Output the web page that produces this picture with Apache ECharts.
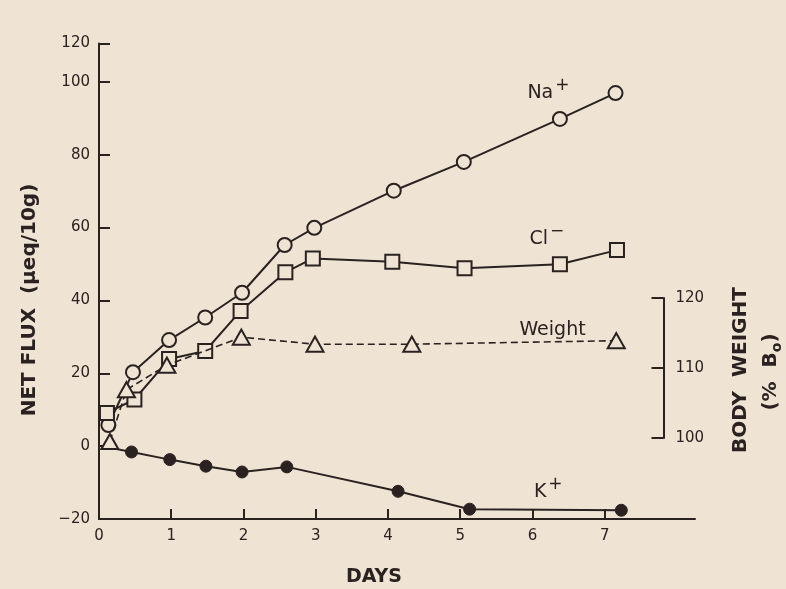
<!DOCTYPE html>
<html><head><meta charset="utf-8">
<script src="https://cdn.jsdelivr.net/npm/echarts@6/dist/echarts.min.js"></script>
<style>html,body{margin:0;padding:0;background:#efe3d4;}#c{width:786px;height:589px;}</style>
</head><body><div id="c"></div>
<script>
// ---- data ----
const naDays = [0.13,0.47,0.97,1.47,1.98,2.57,2.98,4.08,5.05,6.38,7.15];
const naFlux = [5.8,20.3,29.1,35.3,42.1,55.2,59.9,70.1,78.0,89.8,96.9];
const clDays = [0.11,0.49,0.97,1.47,1.96,2.58,2.96,4.06,5.06,6.38,7.17];
const clFlux = [9.1,12.8,23.9,26.1,37.1,47.7,51.5,50.6,48.8,49.9,53.8];
const kDays  = [0.04,0.45,0.98,1.48,1.98,2.60,4.14,5.13,7.23];
const kFlux  = [0,-1.6,-3.7,-5.5,-7.1,-5.7,-12.4,-17.3,-17.6];
const wDays  = [0.15,0.38,0.94,1.97,2.99,4.33,7.16];
const wPct   = [99.5,106.9,110.4,114.4,113.4,113.4,113.9];

const xTicks = [0,1,2,3,4,5,6,7];
const fluxTickValues = [-20,0,20,40,60,80,100,110.5];
const fluxTickLabels = ['\u221220','0','20','40','60','80','100','120'];
const weightTicks = [100,110,120];

const seriesLabels = [
  {text:'{m|Na}{s|+}', x:5.93, y:97.8},
  {text:'{m|Cl}{s|\u2212}', x:5.96, y:57.7},
  {text:'{m|Weight}', x:5.82, y:32.9},
  {text:'{m|K}{s|+}', x:6.02, y:-11.7}
];

const INK = '#2a2220';
const BG = '#efe3d4';
const FONT = '"DejaVu Sans", sans-serif';
const zip = (a,b) => a.map((v,i)=>[v,b[i]]);

const chart = echarts.init(document.getElementById('c'), null, {renderer:'canvas'});
const line = {show:true, onZero:false, lineStyle:{color:INK, width:2}};
const option = {
  backgroundColor:BG,
  animation:false,
  grid:[
    {left:99, right:91, top:43.5, bottom:70},
    {left:99, right:91, top:298, bottom:151}
  ],
  xAxis:[
    {type:'value', gridIndex:0, min:0, max:8.25, axisLine:line, splitLine:{show:false},
      axisTick:{show:true, inside:true, length:10, customValues:xTicks, lineStyle:{color:INK,width:2}},
      axisLabel:{color:INK, fontFamily:FONT, fontSize:15, margin:10, customValues:xTicks}},
    {type:'value', gridIndex:1, min:0, max:8.25, show:false}
  ],
  yAxis:[
    {type:'value', gridIndex:0, min:-20, max:110.5, axisLine:line, splitLine:{show:false},
      axisTick:{show:true, inside:true, length:11, customValues:fluxTickValues.slice(1), lineStyle:{color:INK,width:2}},
      axisLabel:{color:INK, fontFamily:FONT, fontSize:15, margin:9, customValues:fluxTickValues,
        formatter:(v)=>{const i=fluxTickValues.indexOf(v); return i>=0?fluxTickLabels[i]:'';}}},
    {type:'value', gridIndex:1, min:100, max:120, position:'right', offset:-31.5, axisLine:line, splitLine:{show:false},
      axisTick:{show:true, inside:true, length:12, customValues:weightTicks, lineStyle:{color:INK,width:2}},
      axisLabel:{color:INK, fontFamily:FONT, fontSize:15, margin:12, customValues:weightTicks}}
  ],
  series:[
    {type:'line', name:'Na+', xAxisIndex:0, yAxisIndex:0, data:zip(naDays,naFlux),
      symbol:'circle', symbolSize:14, clip:false,
      lineStyle:{color:INK,width:2}, itemStyle:{color:BG, borderColor:INK, borderWidth:2}, z:3},
    {type:'line', name:'Cl-', xAxisIndex:0, yAxisIndex:0, data:zip(clDays,clFlux),
      symbol:'rect', symbolSize:14, clip:false,
      lineStyle:{color:INK,width:2}, itemStyle:{color:BG, borderColor:INK, borderWidth:2}, z:4},
    {type:'line', name:'K+', xAxisIndex:0, yAxisIndex:0,
      data:zip(kDays,kFlux).map((p,i)=> i===0 ? {value:p, symbol:'none'} : p),
      symbol:'circle', symbolSize:12, clip:false,
      lineStyle:{color:INK,width:2}, itemStyle:{color:INK, borderColor:INK, borderWidth:1}, z:3},
    {type:'line', name:'Weight', xAxisIndex:1, yAxisIndex:1, data:zip(wDays,wPct),
      symbol:'triangle', symbolSize:[17,15], clip:false,
      lineStyle:{color:INK,width:1.6,type:[7,4]}, itemStyle:{color:BG, borderColor:INK, borderWidth:2}, z:5}
  ],
  graphic:[
    {type:'text', x:30, y:300, rotation:Math.PI/2,
      style:{text:'NET FLUX  (\u03bceq/10g)', fill:INK, font:'bold 20px '+FONT, align:'center', verticalAlign:'middle'}},
    {type:'text', x:741, y:370, rotation:Math.PI/2,
      style:{text:'BODY  WEIGHT', fill:INK, font:'bold 20px '+FONT, align:'center', verticalAlign:'middle'}},
    {type:'text', x:771, y:372, rotation:Math.PI/2,
      style:{text:'{a|(%  B}{b|o}{a|)}', align:'center', verticalAlign:'middle',
        rich:{a:{fill:INK, font:'bold 20px '+FONT, lineHeight:26}, b:{fill:INK, font:'bold 14px '+FONT, verticalAlign:'bottom', lineHeight:26}}}},
    {type:'text', x:374, y:577,
      style:{text:'DAYS', fill:INK, font:'bold 19px '+FONT, align:'center', verticalAlign:'middle'}}
  ]
};
chart.setOption(option);

const extra = seriesLabels.map(l=>{
  const p = chart.convertToPixel({xAxisIndex:0, yAxisIndex:0}, [l.x, l.y]);
  return {type:'text', x:p[0], y:p[1],
    style:{text:l.text, align:'left', verticalAlign:'middle',
      rich:{m:{fill:INK, font:'19px '+FONT, lineHeight:26, verticalAlign:'bottom'},
            s:{fill:INK, font:'17px '+FONT, lineHeight:26, verticalAlign:'top', padding:[0,0,0,2]}}}};
});
chart.setOption({graphic: option.graphic.concat(extra)});
</script></body></html>
